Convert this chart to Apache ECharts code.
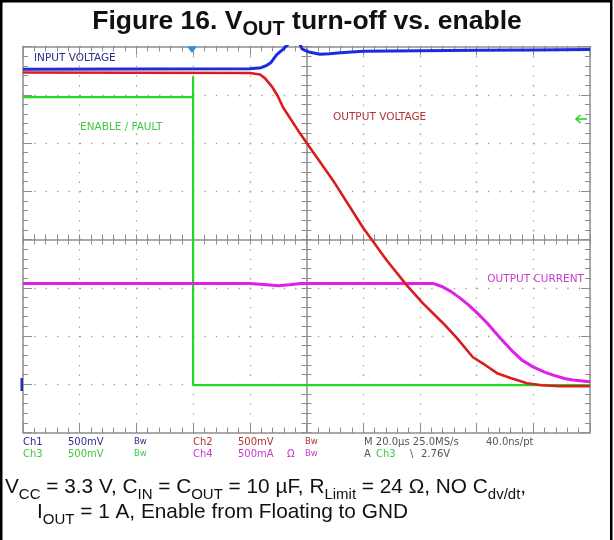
<!DOCTYPE html>
<html>
<head>
<meta charset="utf-8">
<script src="https://cdn.jsdelivr.net/npm/echarts@6/dist/echarts.min.js"></script>
<style>
html,body{margin:0;padding:0;background:#fff;}
#c{width:614px;height:540px;}
</style>
</head>
<body>
<div id="c"></div>
<script>
// ---- Data (time in µs, 20 µs/div; vertical values in screen divisions, 0 = bottom edge) ----
const timeMin = -60, timeMax = 140, timeStep = 20;
const divMin = 0, divMax = 8, divStep = 1;

// Ch1 – INPUT VOLTAGE (blue)
const ch1Time = [-60, 20, 24, 26, 27.5, 29.5, 31.7, 33.5, 36, 38.4, 39.5, 41.2, 44.8, 48, 52, 60, 80, 100, 120, 140];
const ch1Div  = [7.53, 7.54, 7.56, 7.61, 7.67, 7.83, 7.94, 8.05, 8.3, 7.95, 7.92, 7.88, 7.84, 7.85, 7.87, 7.9, 7.91, 7.92, 7.93, 7.94];

// Ch2 – OUTPUT VOLTAGE (red)
const ch2Time = [-60, 20, 23.6, 25.4, 27.8, 29.9, 31.7, 37.7, 40.2, 49.3, 59.9, 63.1, 68.4, 75.4, 81, 88.1, 93, 98.7, 103, 107.2, 112, 117.8, 123, 129.4, 140];
const ch2Div  = [7.46, 7.45, 7.42, 7.34, 7.17, 6.97, 6.74, 6.2, 5.99, 5.23, 4.25, 3.99, 3.56, 3.05, 2.68, 2.27, 1.96, 1.56, 1.4, 1.23, 1.13, 1.02, 0.98, 0.96, 0.96];

// Ch3 – ENABLE / FAULT (green)
const ch3Time = [-60, 0, 0, 0, 140];
const ch3Div  = [6.95, 6.95, 7.38, 0.98, 0.98];

// Ch4 – OUTPUT CURRENT (magenta)
const ch4Time = [-60, 20, 26, 30, 34, 38, 84.6, 88, 91, 94.1, 97, 100, 103.7, 108.3, 112.9, 116, 119.9, 124, 127, 131, 134, 140];
const ch4Div  = [3.09, 3.09, 3.06, 3.04, 3.06, 3.09, 3.09, 3.02, 2.92, 2.79, 2.65, 2.49, 2.27, 1.96, 1.67, 1.5, 1.36, 1.25, 1.19, 1.12, 1.09, 1.05];

// Texts
const titleMain1 = 'Figure 16. V', titleSub = 'OUT', titleMain2 = ' turn-off vs. enable';
const traceLabels = ['INPUT VOLTAGE', 'ENABLE / FAULT', 'OUTPUT VOLTAGE', 'OUTPUT CURRENT'];
const statusRow1 = ['Ch1', '500mV', 'Bw', 'Ch2', '500mV', 'Bw', 'M 20.0\u00b5s 25.0MS/s', '40.0ns/pt'];
const statusRow2 = ['Ch3', '500mV', 'Bw', 'Ch4', '500mA', '\u03a9', 'Bw', 'A', 'Ch3', '\\', '2.76V'];

const pairs = (xs, ys) => xs.map((x, i) => [x, ys[i]]);

const C = {
  blue: '#1a2be0', red: '#dc1c1c', green: '#22d822', magenta: '#e020e4',
  lblBlue: '#2c2c8e', lblGreen: '#40c840', lblRed: '#b03434', lblMag: '#c83cc8', gray: '#555555',
  frame: '#8e8e8e', dot: '#9a9a9a'
};

const gridL = 23, gridT = 46.5, gridW = 567, gridH = 386;

function xAx(opts) {
  return Object.assign({
    type: 'value', min: timeMin, max: timeMax, interval: timeStep, gridIndex: 0,
    axisLabel: { show: false }, splitLine: { show: false },
    axisLine: { show: true, onZero: false, lineStyle: { color: C.frame, width: 1.5 } },
    axisTick: { show: true, inside: true, length: 9, lineStyle: { color: C.frame, width: 1 } },
    minorTick: { show: true, splitNumber: 5, length: 5, lineStyle: { color: C.frame, width: 1 } }
  }, opts);
}
function yAx(opts) {
  return Object.assign({
    type: 'value', min: divMin, max: divMax, interval: divStep, gridIndex: 0,
    axisLabel: { show: false }, splitLine: { show: false },
    axisLine: { show: true, onZero: false, lineStyle: { color: C.frame, width: 1.5 } },
    axisTick: { show: true, inside: true, length: 9, lineStyle: { color: C.frame, width: 1 } },
    minorTick: { show: true, splitNumber: 5, length: 5, lineStyle: { color: C.frame, width: 1 } }
  }, opts);
}

const chart = echarts.init(document.getElementById('c'), null, { renderer: 'canvas' });

const txt = (text, x, y, color, size, align, family) => ({
  type: 'text', silent: true, z: 100,
  style: {
    text: text, x: x, y: y, fill: color,
    font: (size || 10) + 'px ' + (family || '"DejaVu Sans"'),
    textAlign: align || 'left', textVerticalAlign: 'middle'
  }
});

const s1 = [23, 68, 134, 193, 238, 305, 364, 486];
const s1c = [C.lblBlue, C.lblBlue, C.lblBlue, C.lblRed, C.lblRed, C.lblRed, C.gray, C.gray];
const s2 = [23, 68, 134, 193, 238, 287, 305, 364, 376, 410, 421];
const s2c = [C.lblGreen, C.lblGreen, C.lblGreen, C.lblMag, C.lblMag, C.lblMag, C.lblMag, C.gray, C.lblGreen, C.gray, C.gray];

const graphics = [];
// outer black frame (left, top, right)
graphics.push({ type: 'polyline', silent: true, z: 100,
  shape: { points: [[1.25, 540], [1.25, 1.25], [611.25, 1.25], [611.25, 540]] },
  style: { stroke: '#000', lineWidth: 2.5, fill: null } });
// title
graphics.push({ type: 'text', silent: true, z: 100,
  style: {
    text: '{m|' + titleMain1 + '}{s|' + titleSub + '}{m|' + titleMain2 + '}',
    x: 307, y: 3.8, textAlign: 'center', textVerticalAlign: 'top', fill: '#111',
    rich: {
      m: { font: 'bold 26.5px "Liberation Sans", Arial, sans-serif', lineHeight: 36, verticalAlign: 'middle', fill: '#111' },
      s: { font: 'bold 20px "Liberation Sans", Arial, sans-serif', verticalAlign: 'bottom', fill: '#111' }
    }
  } });
// caption
const capRich = {
  m: { font: '20.8px "Liberation Sans", Arial, sans-serif', lineHeight: 30, verticalAlign: 'middle', fill: '#111' },
  s: { font: '15px "Liberation Sans", Arial, sans-serif', verticalAlign: 'bottom', fill: '#111' }
};
graphics.push({ type: 'text', silent: true, z: 100,
  style: { text: '{m|V}{s|CC}{m| = 3.3 V, C}{s|IN}{m| = C}{s|OUT}{m| = 10 \u00b5F, R}{s|Limit}{m| = 24 \u03a9, NO C}{s|dv/dt}{m|,}',
    x: 5, y: 472.5, textAlign: 'left', textVerticalAlign: 'top', rich: capRich } });
graphics.push({ type: 'text', silent: true, z: 100,
  style: { text: '{m|I}{s|OUT}{m| = 1 A, Enable from Floating to GND}',
    x: 37, y: 497.5, textAlign: 'left', textVerticalAlign: 'top', rich: capRich } });
// trace labels
graphics.push(txt(traceLabels[0], 34, 58.5, C.lblBlue, 10.5));
graphics.push(txt(traceLabels[1], 80, 127, C.lblGreen, 10.5));
graphics.push(txt(traceLabels[2], 333, 117.5, C.lblRed, 10.5));
graphics.push(txt(traceLabels[3], 584, 279, C.lblMag, 10.5, 'right'));
// status rows
statusRow1.forEach((t, i) => graphics.push(txt(t, s1[i], 442, s1c[i], t === 'Bw' ? 8.5 : 10)));
statusRow2.forEach((t, i) => graphics.push(txt(t, s2[i], 454, s2c[i], t === 'Bw' ? 8.5 : 10)));
// trigger position marker (top), trigger level arrow (right), ch1 ground marker (left)
graphics.push({ type: 'polygon', silent: true, z: 101,
  shape: { points: [[187, 46.5], [197, 46.5], [192, 53]] }, style: { fill: '#2e8ee6' } });
graphics.push({ type: 'polyline', silent: true, z: 101,
  shape: { points: [[576, 119], [587, 119]] }, style: { stroke: C.green, lineWidth: 1.6, fill: null } });
graphics.push({ type: 'polyline', silent: true, z: 101,
  shape: { points: [[580.5, 115], [576, 119], [580.5, 123]] }, style: { stroke: C.green, lineWidth: 1.6, fill: null } });
graphics.push({ type: 'rect', silent: true, z: 101,
  shape: { x: 20.5, y: 378, width: 2.5, height: 13 }, style: { fill: '#2030a8' } });

const lineSeries = (name, xs, ys, color, width, z) => ({
  name: name, type: 'line', xAxisIndex: 0, yAxisIndex: 0, data: pairs(xs, ys),
  showSymbol: false, symbol: 'none', clip: true, silent: true, z: z,
  lineStyle: { color: color, width: width }, itemStyle: { color: color }
});

chart.setOption({
  animation: false,
  backgroundColor: '#ffffff',
  grid: [{ left: gridL, top: gridT, width: gridW, height: gridH, containLabel: false, outerBoundsMode: 'none' }],
  xAxis: [
    xAx({ position: 'bottom',
      splitLine: { show: true, lineStyle: { color: C.dot, width: 1.3, type: [1.3, gridH / 40 - 1.3] } } }),
    xAx({ position: 'top' }),
    xAx({ position: 'bottom', offset: -gridH / 2, axisTick: { show: true, inside: true, length: 5, lineStyle: { color: C.frame, width: 1 } } }),
    xAx({ position: 'bottom', offset: -gridH / 2, axisLine: { show: false, onZero: false },
      axisTick: { show: true, inside: false, length: 5, lineStyle: { color: C.frame, width: 1 } } })
  ],
  yAxis: [
    yAx({ position: 'left',
      splitLine: { show: true, lineStyle: { color: C.dot, width: 1.3, type: [1.3, gridW / 50 - 1.3] } } }),
    yAx({ position: 'right' }),
    yAx({ position: 'left', offset: -gridW / 2, axisTick: { show: true, inside: true, length: 5, lineStyle: { color: C.frame, width: 1 } } }),
    yAx({ position: 'left', offset: -gridW / 2, axisLine: { show: false, onZero: false },
      axisTick: { show: true, inside: false, length: 5, lineStyle: { color: C.frame, width: 1 } } })
  ],
  series: [
    lineSeries('ENABLE / FAULT', ch3Time, ch3Div, C.green, 2.2, 2),
    lineSeries('OUTPUT CURRENT', ch4Time, ch4Div, C.magenta, 3, 3),
    lineSeries('OUTPUT VOLTAGE', ch2Time, ch2Div, C.red, 2.6, 4),
    lineSeries('INPUT VOLTAGE', ch1Time, ch1Div, C.blue, 3, 5)
  ],
  graphic: { elements: graphics }
});
</script>
</body>
</html>
